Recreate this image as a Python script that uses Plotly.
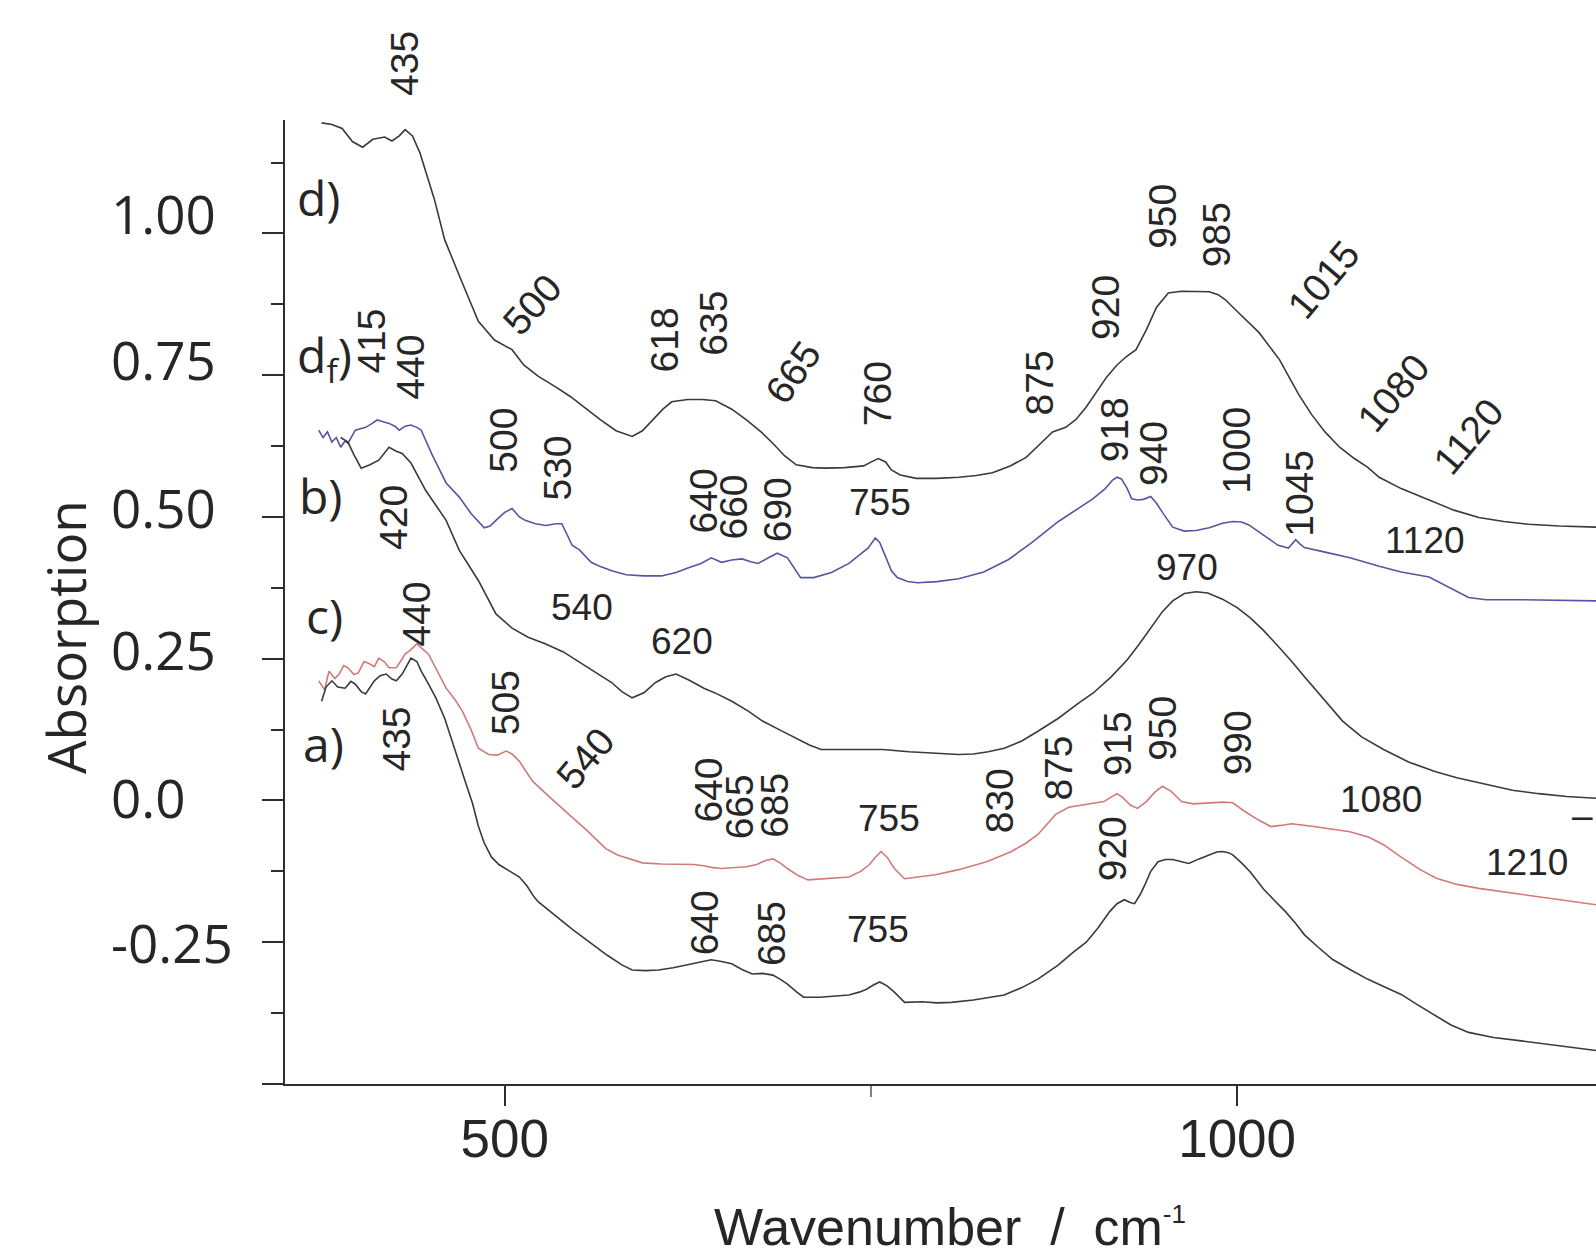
import plotly.graph_objects as go

# ---------------- data ----------------
# spectrum d) (top, black)
wn_d = [375, 382, 389, 396, 403, 410, 418, 423, 428, 432, 437, 442, 452, 459, 471, 482, 493, 505, 513, 523,
        535, 545, 554, 565, 576, 587, 594, 601, 608, 614, 625, 635, 644, 655, 665, 675, 683, 691, 699, 710,
        719, 732, 745, 751, 755, 760, 764, 770, 781, 795, 810, 822, 833, 845, 856, 866, 874, 883, 890, 897,
        904, 911, 918, 924, 931, 938, 945, 953, 962, 972, 981, 987, 992, 1001, 1015, 1029, 1042, 1051, 1060,
        1070, 1080, 1089, 1097, 1112, 1131, 1148, 1165, 1182, 1199, 1220, 1245]
abs_d = [1.195, 1.192, 1.185, 1.162, 1.152, 1.166, 1.170, 1.163, 1.172, 1.183, 1.172, 1.143, 1.060, 0.989,
         0.913, 0.845, 0.812, 0.795, 0.768, 0.748, 0.729, 0.712, 0.694, 0.672, 0.652, 0.642, 0.652, 0.671,
         0.690, 0.703, 0.707, 0.707, 0.705, 0.690, 0.671, 0.650, 0.630, 0.608, 0.592, 0.587, 0.586, 0.587,
         0.590, 0.598, 0.603, 0.597, 0.583, 0.574, 0.568, 0.568, 0.570, 0.573, 0.578, 0.590, 0.605, 0.630,
         0.650, 0.658, 0.672, 0.694, 0.720, 0.747, 0.768, 0.782, 0.795, 0.830, 0.870, 0.895, 0.898, 0.898,
         0.897, 0.892, 0.883, 0.860, 0.825, 0.777, 0.716, 0.680, 0.650, 0.623, 0.603, 0.588, 0.570, 0.550,
         0.530, 0.512, 0.499, 0.492, 0.487, 0.484, 0.482]

# spectrum d_f) (blue)
wn_df = [373, 376, 379, 382, 385, 388, 391, 393, 398, 405, 409, 413, 417, 421, 425, 428, 432, 436, 440, 443,
         450, 460, 469, 477, 486, 490, 494, 500, 505, 510, 514, 521, 528, 535, 539, 546, 551, 559, 564, 573,
         583, 595, 607, 617, 625, 634, 641, 648, 655, 662, 668, 673, 680, 686, 693, 702, 711, 723, 735, 742,
         748, 753, 756, 760, 764, 768, 775, 782, 795, 810, 827, 844, 860, 878, 890, 901, 910, 915, 918, 921,
         925, 928, 932, 936, 941, 945, 949, 956, 964, 972, 981, 990, 997, 1003, 1008, 1018, 1028, 1035, 1040,
         1043, 1046, 1060, 1077, 1097, 1112, 1131, 1145, 1158, 1170, 1194, 1245]
abs_df = [0.653, 0.640, 0.650, 0.632, 0.640, 0.623, 0.634, 0.630, 0.653, 0.658, 0.664, 0.671, 0.668, 0.665,
          0.660, 0.653, 0.660, 0.662, 0.658, 0.653, 0.612, 0.560, 0.535, 0.506, 0.481, 0.484, 0.494, 0.508,
          0.515, 0.500, 0.494, 0.488, 0.485, 0.488, 0.488, 0.450, 0.442, 0.420, 0.414, 0.405, 0.398, 0.396,
          0.396, 0.402, 0.410, 0.418, 0.428, 0.420, 0.424, 0.426, 0.421, 0.418, 0.428, 0.436, 0.428, 0.393,
          0.393, 0.402, 0.418, 0.433, 0.445, 0.463, 0.455, 0.430, 0.405, 0.393, 0.386, 0.384, 0.386, 0.391,
          0.403, 0.425, 0.455, 0.492, 0.512, 0.531, 0.550, 0.565, 0.570, 0.567, 0.550, 0.532, 0.530, 0.531,
          0.536, 0.524, 0.508, 0.482, 0.475, 0.476, 0.481, 0.489, 0.492, 0.491, 0.486, 0.468, 0.450, 0.445,
          0.460, 0.452, 0.446, 0.438, 0.428, 0.413, 0.403, 0.394, 0.376, 0.358, 0.354, 0.354, 0.352]

# spectrum with the 970 band (black, middle)
wn_c = [388, 393, 397, 402, 408, 414, 421, 426, 430, 436, 446, 460, 469, 482, 494, 505, 516, 528, 540, 551,
        562, 573, 580, 587, 595, 603, 610, 617, 626, 636, 645, 655, 666, 676, 688, 699, 708, 716, 735, 758,
        776, 794, 810, 820, 830, 841, 853, 864, 878, 892, 902, 914, 925, 933, 941, 949, 956, 964, 972, 980,
        990, 1000, 1009, 1018, 1028, 1037, 1046, 1056, 1064, 1072, 1085, 1100, 1117, 1135, 1150, 1170, 1188,
        1206, 1225, 1245]
abs_c = [0.640, 0.632, 0.610, 0.586, 0.592, 0.600, 0.623, 0.616, 0.612, 0.595, 0.547, 0.494, 0.441, 0.388,
         0.329, 0.304, 0.288, 0.276, 0.262, 0.244, 0.225, 0.208, 0.192, 0.181, 0.190, 0.208, 0.218, 0.223,
         0.212, 0.198, 0.188, 0.175, 0.158, 0.140, 0.124, 0.110, 0.098, 0.090, 0.090, 0.090, 0.086, 0.083,
         0.081, 0.082, 0.086, 0.092, 0.105, 0.122, 0.145, 0.172, 0.190, 0.218, 0.248, 0.275, 0.304, 0.333,
         0.352, 0.365, 0.368, 0.366, 0.355, 0.340, 0.322, 0.300, 0.272, 0.246, 0.218, 0.188, 0.163, 0.140,
         0.112, 0.090, 0.068, 0.051, 0.040, 0.028, 0.018, 0.012, 0.007, 0.004]

# red spectrum
wn_r = [373, 377, 380, 384, 387, 390, 393, 397, 400, 404, 407, 411, 414, 418, 421, 426, 429, 432, 436, 440,
        448, 454, 460, 466, 471, 477, 482, 489, 495, 501, 505, 510, 519, 529, 539, 547, 555, 562, 569, 577,
        585, 594, 607, 620, 629, 636, 641, 648, 656, 665, 672, 678, 683, 688, 693, 700, 707, 720, 735, 743,
        749, 753, 757, 761, 766, 773, 785, 794, 810, 829, 846, 856, 864, 870, 876, 885, 895, 904, 909, 914,
        918, 922, 927, 932, 938, 944, 949, 955, 962, 970, 980, 990, 997, 1005, 1015, 1023, 1030, 1037, 1050,
        1065, 1077, 1090, 1100, 1112, 1125, 1136, 1150, 1165, 1182, 1200, 1220, 1245]
abs_r = [0.211, 0.195, 0.228, 0.215, 0.223, 0.238, 0.234, 0.222, 0.225, 0.245, 0.242, 0.236, 0.251, 0.244,
         0.234, 0.234, 0.246, 0.258, 0.266, 0.276, 0.258, 0.228, 0.198, 0.178, 0.158, 0.125, 0.092, 0.081,
         0.080, 0.087, 0.082, 0.069, 0.034, 0.010, -0.014, -0.032, -0.050, -0.068, -0.085, -0.096, -0.103,
         -0.110, -0.112, -0.112, -0.113, -0.115, -0.118, -0.120, -0.118, -0.117, -0.113, -0.106, -0.103,
         -0.110, -0.120, -0.132, -0.140, -0.138, -0.135, -0.125, -0.113, -0.100, -0.090, -0.100, -0.120,
         -0.138, -0.134, -0.131, -0.122, -0.108, -0.090, -0.075, -0.060, -0.042, -0.025, -0.012, -0.008,
         -0.004, -0.002, 0.006, 0.012, 0.005, -0.008, -0.014, -0.002, 0.015, 0.025, 0.016, -0.002, -0.006,
         -0.004, -0.003, -0.004, -0.019, -0.035, -0.046, -0.044, -0.041, -0.045, -0.050, -0.055, -0.065,
         -0.078, -0.100, -0.122, -0.137, -0.148, -0.155, -0.161, -0.167, -0.175, -0.184]

# spectrum a) (bottom, black)
wn_a = [375, 378, 382, 386, 391, 395, 398, 402, 405, 408, 411, 415, 419, 423, 426, 430, 433, 436, 440, 443,
        448, 453, 459, 464, 469, 473, 478, 482, 486, 491, 496, 501, 505, 510, 515, 520, 523, 530, 535, 546,
        558, 570, 580, 587, 596, 605, 615, 624, 632, 641, 648, 655, 662, 669, 676, 683, 688, 693, 699, 704,
        715, 725, 735, 742, 747, 752, 756, 761, 766, 773, 785, 795, 805, 820, 830, 841, 853, 864, 878, 888,
        897, 905, 913, 918, 923, 927, 930, 934, 937, 941, 946, 951, 956, 962, 967, 974, 981, 986, 990, 994,
        997, 1003, 1009, 1018, 1025, 1033, 1040, 1046, 1055, 1065, 1077, 1089, 1100, 1112, 1123, 1135, 1146,
        1158, 1175, 1194, 1220, 1245]
abs_a = [0.175, 0.200, 0.211, 0.200, 0.198, 0.210, 0.205, 0.192, 0.188, 0.200, 0.211, 0.220, 0.223, 0.214,
         0.211, 0.223, 0.238, 0.251, 0.245, 0.228, 0.205, 0.181, 0.145, 0.104, 0.065, 0.034, -0.005, -0.045,
         -0.075, -0.100, -0.113, -0.121, -0.126, -0.135, -0.150, -0.170, -0.179, -0.193, -0.204, -0.227,
         -0.250, -0.273, -0.290, -0.299, -0.300, -0.299, -0.295, -0.290, -0.285, -0.281, -0.284, -0.288,
         -0.298, -0.306, -0.305, -0.308, -0.315, -0.324, -0.337, -0.347, -0.347, -0.345, -0.343, -0.338,
         -0.333, -0.325, -0.320, -0.327, -0.338, -0.356, -0.355, -0.357, -0.356, -0.352, -0.348, -0.343,
         -0.330, -0.315, -0.290, -0.268, -0.250, -0.225, -0.196, -0.182, -0.175, -0.180, -0.182, -0.165,
         -0.149, -0.125, -0.108, -0.104, -0.104, -0.108, -0.111, -0.103, -0.096, -0.091, -0.090, -0.092,
         -0.096, -0.110, -0.126, -0.156, -0.175, -0.196, -0.217, -0.237, -0.258, -0.280, -0.298, -0.315,
         -0.328, -0.342, -0.360, -0.379, -0.396, -0.409, -0.418, -0.424, -0.432, -0.441]

# axis ticks
x_range = [350, 1245]
y_range = [-0.5, 1.2]
x_tick_vals = [500, 1000]
x_minor_vals = [750]
y_tick_vals = [-0.5, -0.25, 0.0, 0.25, 0.5, 0.75, 1.0]
y_minor_vals = [-0.375, -0.125, 0.125, 0.375, 0.625, 0.875, 1.125]
y_label_vals = [1.0, 0.75, 0.5, 0.25, 0.0, -0.25]
y_label_text = ["1.00", "0.75", "0.50", "0.25", "0.0", "-0.25"]

# spectrum names
series_text = ["d)", "d<sub>f</sub>)", "b)", "c)", "a)"]
series_x = [357, 357, 358, 363, 361]
series_y = [1.064, 0.781, 0.538, 0.326, 0.101]

# band labels: text, wavenumber, absorption, angle
band_text = ["435", "500", "618", "635", "665", "760", "875", "920", "950", "985", "1015", "1080", "1120",
             "415", "440", "500", "530", "640", "660", "690", "755", "918", "940", "1000", "1045", "1120",
             "420", "540", "620", "970",
             "440", "505", "540", "640", "665", "685", "755", "830", "875", "915", "950", "990", "1080", "1210",
             "\u2013",
             "435", "640", "685", "755", "920"]
band_x = [432, 519, 609, 642, 697, 755, 865, 910, 949, 986, 1059, 1107, 1158,
          409, 436, 499, 536, 636, 656, 686, 756, 916, 943, 999, 1043, 1128,
          424, 553, 621, 966,
          440, 501, 555, 639, 660, 684, 762, 838, 878, 918, 949, 1000, 1098, 1198,
          1236,
          426, 637, 682, 755, 915]
band_y = [1.299, 0.874, 0.812, 0.842, 0.754, 0.717, 0.736, 0.869, 1.030, 0.998, 0.919, 0.719, 0.641,
          0.810, 0.765, 0.635, 0.586, 0.529, 0.517, 0.512, 0.526, 0.653, 0.612, 0.618, 0.541, 0.458,
          0.499, 0.340, 0.281, 0.411,
          0.329, 0.172, 0.074, 0.018, -0.012, -0.009, -0.031, 0.000, 0.057, 0.099, 0.127, 0.101, 0.002, -0.110,
          -0.027,
          0.108, -0.216, -0.235, -0.228, -0.085]
band_angle = [-90, -48, -90, -90, -55, -90, -90, -90, -90, -90, -50, -50, -50,
              -90, -90, -90, -90, -90, -90, -90, 0, -90, -90, -90, -90, 0,
              -90, 0, 0, 0,
              -90, -90, -50, -90, -90, -90, 0, -90, -90, -90, -90, -90, 0, 0,
              0,
              -90, -90, -90, 0, -90]

# ---------------- styles ----------------
AXIS = "#2e2e2e"
TEXT = "#262626"
LABEL_FONT = "Liberation Sans, Arial, sans-serif"
AXIS_FONT = "Open Sans, sans-serif"
Y_LABEL_NUDGE = [20, 16, 9, 9, 3, 0]   # the printed labels sit a little above their ticks

series = [
    (wn_d, abs_d, "#3a3a3a", "d)"),
    (wn_df, abs_df, "#5656a0", "d_f)"),
    (wn_c, abs_c, "#3a3a3a", "b)"),
    (wn_r, abs_r, "#d07a7a", "red"),
    (wn_a, abs_a, "#3a3a3a", "a)"),
]

fig = go.Figure()
for xs, ys, col, nm in series:
    fig.add_trace(go.Scatter(x=xs, y=ys, mode="lines", name=nm,
                             line=dict(color=col, width=1.6), hoverinfo="skip"))

ann = []
for t, v, nud in zip(y_label_text, y_label_vals, Y_LABEL_NUDGE):
    ann.append(dict(text=t, xref="paper", x=0, xanchor="left", xshift=-176,
                    yref="y", y=v, yanchor="middle", yshift=nud, showarrow=False,
                    font=dict(family=AXIS_FONT, size=53, color=TEXT)))
for t, x, y in zip(series_text, series_x, series_y):
    ann.append(dict(text=t, xref="x", x=x, xanchor="left", yref="y", y=y, yanchor="middle",
                    showarrow=False, font=dict(family=AXIS_FONT, size=48, color=TEXT)))
for t, x, y, a in zip(band_text, band_x, band_y, band_angle):
    if y > y_range[1]:
        yref, yy = "paper", (y - y_range[0]) / (y_range[1] - y_range[0])
    else:
        yref, yy = "y", y
    ann.append(dict(text=t, xref="x", x=x, yref=yref, y=yy, textangle=a, showarrow=False,
                    xanchor="center", yanchor="middle",
                    font=dict(family=LABEL_FONT, size=37 if a == 0 else 39, color=TEXT)))
# axis titles
ann.append(dict(text="Absorption", xref="paper", x=0, xshift=-219, xanchor="center",
                yref="paper", y=0.4637, yanchor="middle", textangle=-90, showarrow=False,
                font=dict(family=AXIS_FONT, size=53, color=TEXT)))
ann.append(dict(text="Wavenumber\u00a0\u00a0/\u00a0\u00a0cm<sup><span style='font-size:26px'>-1</span></sup>",
                xref="paper", x=0.507, xanchor="center", yref="paper", y=-0.148, yanchor="middle",
                showarrow=False, font=dict(family=LABEL_FONT, size=52, color=TEXT)))

fig.update_layout(
    width=1596, height=1259,
    margin=dict(l=285, r=0, t=120, b=175, pad=0),
    paper_bgcolor="white", plot_bgcolor="white",
    showlegend=False,
    annotations=ann,
)
fig.update_xaxes(
    range=x_range, tickmode="array", tickvals=x_tick_vals,
    ticks="outside", ticklen=20, tickwidth=2, tickcolor=AXIS,
    showline=True, linecolor=AXIS, linewidth=2, showgrid=False, zeroline=False,
    tickfont=dict(family=LABEL_FONT, size=53, color=TEXT),
    ticklabelstandoff=-13,
    minor=dict(tickmode="array", tickvals=x_minor_vals, ticks="outside", ticklen=11,
               tickwidth=1.5, tickcolor="#808080", showgrid=False),
)
fig.update_yaxes(
    range=y_range, tickmode="array", tickvals=y_tick_vals,
    ticks="outside", ticklen=21, tickwidth=2, tickcolor=AXIS,
    showline=True, linecolor=AXIS, linewidth=2, showgrid=False, zeroline=False,
    showticklabels=False,
    minor=dict(tickmode="array", tickvals=y_minor_vals, ticks="outside", ticklen=12,
               tickwidth=2, tickcolor=AXIS, showgrid=False),
)

fig.write_html("out.html", config={"displayModeBar": False},
               post_script="document.body.style.margin='0';document.body.style.overflow='hidden';")
